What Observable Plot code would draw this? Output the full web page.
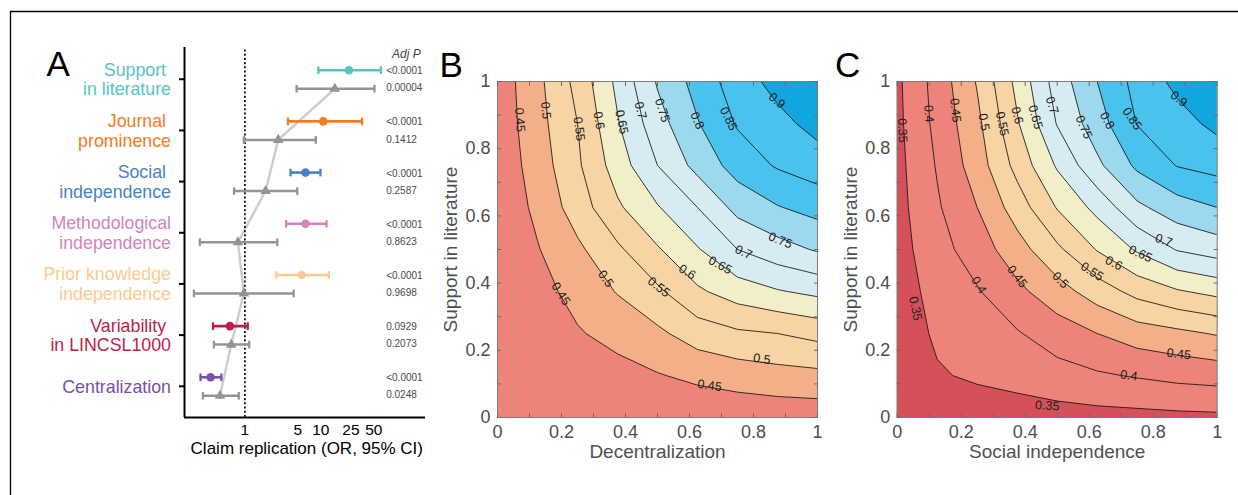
<!DOCTYPE html>
<html><head><meta charset="utf-8">
<script src="https://cdn.jsdelivr.net/npm/d3@7"></script>
<script src="https://cdn.jsdelivr.net/npm/@observablehq/plot@0.6"></script>
<style>
body{margin:0;background:#fff;}
#fig{position:relative;width:1238px;height:495px;overflow:hidden;background:#fff;}
.panel{position:absolute;top:0;}
</style></head><body><div id="fig"></div>
<script>
const FONT = '"Liberation Sans", Arial, Helvetica, sans-serif';

// ---------- Panel A data ----------
const categories = ["Support\u00A0\nin literature", "Journal\u00A0\nprominence", "Social\u00A0\nindependence",
  "Methodological\nindependence", "Prior knowledge\nindependence", "Variability\u00A0\nin LINCSL1000", "Centralization"];
const catColors = ["#57C4C4", "#F37B22", "#4882C6", "#D283C0", "#FDCA8E", "#BD1E48", "#7A51A5"];
const orEst  = [23.5, 10.8, 6.3, 6.3, 5.6, 0.635, 0.353];
const orLo   = [9.3, 3.7, 4.0, 3.5, 2.6, 0.38, 0.26];
const orHi   = [62, 35, 9.9, 11.9, 12.8, 1.09, 0.49];
const grayEst = [15.3, 2.75, 1.87, 0.81, 0.97, 0.66, 0.47];
const grayLo  = [4.8, 0.97, 0.72, 0.255, 0.213, 0.39, 0.28];
const grayHi  = [51, 8.6, 4.9, 2.67, 4.4, 1.14, 0.83];
const pColored = ["<0.0001", "<0.0001", "<0.0001", "<0.0001", "<0.0001", "0.0929", "<0.0001"];
const pGray    = ["0.00004", "0.1412", "0.2587", "0.8623", "0.9698", "0.2073", "0.0248"];
const xTicksA = [1, 5, 10, 25, 50];
const xDomA = [0.16, 240];
const yDomA = [-0.62, 6.61];

// ---------- Panels B, C data ----------
const gridSteps = [0, 0.125, 0.25, 0.375, 0.5, 0.625, 0.75, 0.875, 1];
// rows: y = 0 (bottom) ... 1 (top); columns: x = 0 ... 1
const zB = [
  [0.404, 0.405, 0.406, 0.408, 0.410, 0.413, 0.415, 0.418, 0.420],
  [0.405, 0.426, 0.427, 0.434, 0.447, 0.461, 0.473, 0.482, 0.487],
  [0.406, 0.427, 0.446, 0.465, 0.490, 0.524, 0.542, 0.550, 0.565],
  [0.408, 0.434, 0.465, 0.503, 0.541, 0.592, 0.624, 0.646, 0.662],
  [0.410, 0.447, 0.490, 0.541, 0.595, 0.646, 0.700, 0.730, 0.755],
  [0.413, 0.461, 0.524, 0.592, 0.646, 0.700, 0.766, 0.797, 0.818],
  [0.415, 0.473, 0.542, 0.624, 0.700, 0.766, 0.821, 0.855, 0.876],
  [0.418, 0.482, 0.550, 0.646, 0.730, 0.797, 0.855, 0.885, 0.917],
  [0.420, 0.487, 0.565, 0.662, 0.755, 0.818, 0.876, 0.917, 0.950]
];
const zC = [
  [0.310, 0.318, 0.320, 0.325, 0.330, 0.333, 0.335, 0.338, 0.340],
  [0.318, 0.345, 0.358, 0.368, 0.381, 0.394, 0.404, 0.414, 0.420],
  [0.320, 0.358, 0.381, 0.396, 0.425, 0.450, 0.475, 0.488, 0.504],
  [0.325, 0.368, 0.396, 0.438, 0.479, 0.524, 0.566, 0.595, 0.614],
  [0.330, 0.381, 0.425, 0.479, 0.540, 0.603, 0.656, 0.703, 0.723],
  [0.333, 0.394, 0.450, 0.524, 0.603, 0.665, 0.739, 0.778, 0.800],
  [0.335, 0.404, 0.475, 0.566, 0.656, 0.739, 0.810, 0.852, 0.867],
  [0.338, 0.414, 0.488, 0.595, 0.703, 0.778, 0.852, 0.881, 0.913],
  [0.340, 0.420, 0.504, 0.614, 0.723, 0.800, 0.867, 0.913, 0.950]
];
const thresholdsB = [0.40, 0.45, 0.50, 0.55, 0.60, 0.65, 0.70, 0.75, 0.80, 0.85, 0.90];
const thresholdsC = [0.30, 0.35, 0.40, 0.45, 0.50, 0.55, 0.60, 0.65, 0.70, 0.75, 0.80, 0.85, 0.90];
const bandBreaks = [0.325, 0.375, 0.425, 0.475, 0.525, 0.575, 0.625, 0.675, 0.725, 0.775, 0.825, 0.875];
const bandColors = ["#D6505A", "#EE8479", "#EE8479", "#F4AF88", "#F8D3A3", "#F8D3A3", "#F2EEC8",
  "#D7EBF2", "#D7EBF2", "#9CD8EE", "#4AC2EE", "#4AC2EE", "#12A6DF"];
const labelsB = [
  {x: 0.070, y: 0.886, t: "0.45", a: 86}, {x: 0.151, y: 0.914, t: "0.5", a: 84},
  {x: 0.255, y: 0.859, t: "0.55", a: 82}, {x: 0.317, y: 0.884, t: "0.6", a: 80},
  {x: 0.388, y: 0.879, t: "0.65", a: 78}, {x: 0.447, y: 0.914, t: "0.7", a: 76},
  {x: 0.515, y: 0.914, t: "0.75", a: 72}, {x: 0.624, y: 0.884, t: "0.8", a: 66},
  {x: 0.722, y: 0.889, t: "0.85", a: 64}, {x: 0.873, y: 0.943, t: "0.9", a: 40},
  {x: 0.884, y: 0.527, t: "0.75", a: 22}, {x: 0.769, y: 0.492, t: "0.7", a: 25},
  {x: 0.696, y: 0.453, t: "0.65", a: 28}, {x: 0.593, y: 0.433, t: "0.6", a: 32},
  {x: 0.504, y: 0.388, t: "0.55", a: 38}, {x: 0.338, y: 0.413, t: "0.5", a: 55},
  {x: 0.198, y: 0.368, t: "0.45", a: 57}, {x: 0.826, y: 0.174, t: "0.5", a: 8},
  {x: 0.663, y: 0.095, t: "0.45", a: 8}
];
const labelsC = [
  {x: 0.016, y: 0.854, t: "0.35", a: 87}, {x: 0.099, y: 0.904, t: "0.4", a: 86},
  {x: 0.182, y: 0.914, t: "0.45", a: 84}, {x: 0.271, y: 0.879, t: "0.5", a: 80},
  {x: 0.328, y: 0.874, t: "0.55", a: 78}, {x: 0.375, y: 0.899, t: "0.6", a: 76},
  {x: 0.432, y: 0.894, t: "0.65", a: 74}, {x: 0.484, y: 0.929, t: "0.7", a: 72},
  {x: 0.583, y: 0.864, t: "0.75", a: 66}, {x: 0.656, y: 0.884, t: "0.8", a: 62},
  {x: 0.734, y: 0.889, t: "0.85", a: 56}, {x: 0.880, y: 0.948, t: "0.9", a: 38},
  {x: 0.833, y: 0.527, t: "0.7", a: 20}, {x: 0.760, y: 0.487, t: "0.65", a: 24},
  {x: 0.677, y: 0.459, t: "0.6", a: 28}, {x: 0.609, y: 0.434, t: "0.55", a: 32},
  {x: 0.510, y: 0.409, t: "0.5", a: 45}, {x: 0.375, y: 0.419, t: "0.45", a: 52},
  {x: 0.255, y: 0.394, t: "0.4", a: 58}, {x: 0.057, y: 0.324, t: "0.35", a: 78},
  {x: 0.880, y: 0.189, t: "0.45", a: 7}, {x: 0.724, y: 0.125, t: "0.4", a: 8},
  {x: 0.469, y: 0.035, t: "0.35", a: 4}
];
const ticks10 = [0, 0.1, 0.2, 0.3, 0.4, 0.5, 0.6, 0.7, 0.8, 0.9, 1];
const tickLabels = [0, 0.2, 0.4, 0.6, 0.8, 1];

const fig = document.getElementById("fig");
function place(node, left, width) {
  const d = document.createElement("div");
  d.className = "panel"; d.style.left = left + "px"; d.style.width = width + "px";
  d.appendChild(node); fig.appendChild(d);
  return node;
}

// ---------- Panel A ----------
const rowsA = categories.map((c, i) => ({i, label: c, color: catColors[i], est: orEst[i], lo: orLo[i], hi: orHi[i],
  gEst: grayEst[i], gLo: grayLo[i], gHi: grayHi[i], p1: pColored[i], p2: pGray[i]}));
const capSym = {draw(ctx, size) { const h = Math.sqrt(size / Math.PI); ctx.moveTo(0, -h); ctx.lineTo(0, h); }};
const GRAY = "#949494", UP = -9, DN = 9.5;
const plotA = Plot.plot({
  width: 440, height: 495, marginLeft: 184, marginRight: 15, marginTop: 47, marginBottom: 78,
  style: {fontFamily: FONT, background: "transparent", overflow: "visible"},
  x: {type: "log", domain: xDomA, axis: null},
  y: {domain: yDomA, reverse: true},
  color: {type: "identity"},
  marks: [
    Plot.line(rowsA, {x: "gEst", y: "i", dy: DN, stroke: "#cdcdcd", strokeWidth: 2.5}),
    Plot.ruleX([1], {stroke: "#000", strokeDasharray: "2,2.2", strokeWidth: 1.7, y1: yDomA[0] + 0.05, y2: yDomA[1]}),
    Plot.ruleY(rowsA, {y: "i", x1: "gLo", x2: "gHi", dy: DN, stroke: GRAY, strokeWidth: 2.5}),
    Plot.dot(rowsA, {x: "gLo", y: "i", dy: DN, symbol: capSym, r: 3.8, fill: "none", stroke: GRAY, strokeWidth: 2.3}),
    Plot.dot(rowsA, {x: "gHi", y: "i", dy: DN, symbol: capSym, r: 3.8, fill: "none", stroke: GRAY, strokeWidth: 2.3}),
    Plot.dot(rowsA, {x: "gEst", y: "i", dy: DN, symbol: "triangle", r: 3.9, fill: GRAY, stroke: null}),
    Plot.ruleY(rowsA, {y: "i", x1: "lo", x2: "hi", dy: UP, stroke: "color", strokeWidth: 2.6}),
    Plot.dot(rowsA, {x: "lo", y: "i", dy: UP, symbol: capSym, r: 3.8, fill: "none", stroke: "color", strokeWidth: 2.3}),
    Plot.dot(rowsA, {x: "hi", y: "i", dy: UP, symbol: capSym, r: 3.8, fill: "none", stroke: "color", strokeWidth: 2.3}),
    Plot.dot(rowsA, {x: "est", y: "i", dy: UP, r: 4.3, fill: "color", stroke: null}),
    Plot.text(rowsA, {y: "i", frameAnchor: "right", dx: -39.3, dy: UP + 0.8, text: "p1", textAnchor: "start", fontSize: 10, fill: "#4a4a4a"}),
    Plot.text(rowsA, {y: "i", frameAnchor: "right", dx: -39.3, dy: DN - 0.5, text: "p2", textAnchor: "start", fontSize: 10, fill: "#4a4a4a"}),
    Plot.text(["Adj P"], {frameAnchor: "top-right", dx: -33.5, dy: 7, textAnchor: "start", lineAnchor: "middle", fontSize: 12, fontStyle: "italic", fill: "#444"}),
    Plot.text(rowsA, {y: "i", frameAnchor: "left", dx: -13.5, text: "label", textAnchor: "end", lineAnchor: "middle", fill: "color", fontSize: 17.8, lineHeight: 1.11}),
    Plot.ruleX([xDomA[0]], {stroke: "#000", strokeWidth: 2}),
    Plot.ruleY([yDomA[1]], {stroke: "#000", strokeWidth: 2}),
    Plot.axisY({ticks: d3.range(categories.length), tickSize: 5, tickFormat: () => "", stroke: "#000", strokeWidth: 2, label: null}),
    Plot.text(xTicksA, {x: d => d, frameAnchor: "bottom", dy: 12.3, text: d => String(d), lineAnchor: "middle", fontSize: 15.5, fill: "#000"}),
    Plot.text(["Claim replication (OR, 95% CI)"], {frameAnchor: "bottom", dx: 1.8, dy: 31, lineAnchor: "middle", fontSize: 17, fill: "#000"})
  ]
});
place(plotA, 0, 440);

// ---------- Panels B & C ----------
function contourPanel(z, thresholds, labels, xLabel, left, width, ml, mr, id) {
  const flat = z.flat();
  const n = gridSteps.length;
  const half = (gridSteps[1] - gridSteps[0]) / 2;
  const grid = {width: n, height: n, x1: gridSteps[0] - half, x2: gridSteps[n - 1] + half,
                y1: gridSteps[0] - half, y2: gridSteps[n - 1] + half, thresholds, clip: true};
  const p = Plot.plot({
    width, height: 495, marginLeft: ml, marginRight: mr, marginTop: 81, marginBottom: 78,
    style: {fontFamily: FONT, background: "transparent", overflow: "visible"},
    x: {domain: [0, 1]}, y: {domain: [0, 1]},
    color: {type: "threshold", domain: bandBreaks, range: bandColors},
    marks: [
      Plot.contour(flat, {...grid, fill: Plot.identity, stroke: "none"}),
      Plot.contour(flat, {...grid, value: Plot.identity, fill: "none", stroke: "#151515", strokeWidth: 0.85, ariaLabel: "clines"}),
      Plot.text(labels, {x: "x", y: "y", text: "t", rotate: "a", fontSize: 12.5, fill: "#222", ariaLabel: "clabels"}),
      Plot.frame({stroke: "#7c7c7c", strokeWidth: 1}),
      Plot.axisX({anchor: "bottom", ticks: ticks10, tickSize: -4, tickFormat: () => "", stroke: "#6c6c6c", label: null}),
      Plot.axisX({anchor: "top", ticks: ticks10, tickSize: -4, tickFormat: () => "", stroke: "#6c6c6c", label: null}),
      Plot.axisY({anchor: "left", ticks: ticks10, tickSize: -4, tickFormat: () => "", stroke: "#6c6c6c", label: null}),
      Plot.axisY({anchor: "right", ticks: ticks10, tickSize: -4, tickFormat: () => "", stroke: "#6c6c6c", label: null}),
      Plot.axisX({anchor: "bottom", ticks: tickLabels, tickSize: 0, tickPadding: 8, tickFormat: d => String(d), fontSize: 18, color: "#4d4d4d", label: null}),
      Plot.axisY({anchor: "left", ticks: tickLabels, tickSize: 0, tickPadding: 7, tickFormat: d => String(d), fontSize: 18, color: "#4d4d4d", label: null}),
      Plot.text([xLabel], {frameAnchor: "bottom", dy: 34.7, lineAnchor: "middle", fontSize: 19, fill: "#505050"}),
      Plot.text(["Support in literature"], {frameAnchor: "left", dx: -46.5, rotate: -90, lineAnchor: "middle", textAnchor: "middle", fontSize: 19, fill: "#505050"})
    ]
  });
  // break contour lines under their labels (as MATLAB does)
  const ns = "http://www.w3.org/2000/svg";
  const lines = p.querySelector('g[aria-label="clines"]');
  const labs = p.querySelector('g[aria-label="clabels"]');
  if (lines && labs) {
    const defs = document.createElementNS(ns, "defs");
    const mask = document.createElementNS(ns, "mask");
    mask.setAttribute("id", id); mask.setAttribute("maskUnits", "userSpaceOnUse");
    mask.setAttribute("x", -20); mask.setAttribute("y", -20);
    mask.setAttribute("width", width + 40); mask.setAttribute("height", 535);
    const rect = document.createElementNS(ns, "rect");
    rect.setAttribute("x", -20); rect.setAttribute("y", -20);
    rect.setAttribute("width", width + 40); rect.setAttribute("height", 535); rect.setAttribute("fill", "#fff");
    const clone = labs.cloneNode(true);
    clone.removeAttribute("aria-label");
    clone.querySelectorAll("*").forEach(e => { e.removeAttribute("fill"); e.removeAttribute("stroke"); });
    clone.setAttribute("fill", "#000"); clone.setAttribute("stroke", "#000"); clone.setAttribute("stroke-width", "6");
    mask.appendChild(rect); mask.appendChild(clone); defs.appendChild(mask);
    p.insertBefore(defs, p.firstChild);
    lines.setAttribute("mask", `url(#${id})`);
  }
  return place(p, left, width);
}
contourPanel(zB, thresholdsB, labelsB, "Decentralization", 430, 410, 67, 23, "maskB");
contourPanel(zC, thresholdsC, labelsC, "Social independence", 830, 408, 66.7, 21.3, "maskC");

// ---------- overlay: panel letters and figure border ----------
const ov = d3.select(fig).append("svg").attr("width", 1238).attr("height", 495)
  .style("position", "absolute").style("left", "0px").style("top", "0px").style("pointer-events", "none");
ov.append("path").attr("d", "M10.5,495V11.5H1238").attr("fill", "none").attr("stroke", "#000").attr("stroke-width", 1.3);
ov.selectAll("text").data([["A", 46.5, 75.5], ["B", 439.5, 77], ["C", 835, 77]]).join("text")
  .attr("x", d => d[1]).attr("y", d => d[2]).text(d => d[0])
  .attr("font-family", FONT).attr("font-size", 35).attr("fill", "#000");
</script></body></html>
